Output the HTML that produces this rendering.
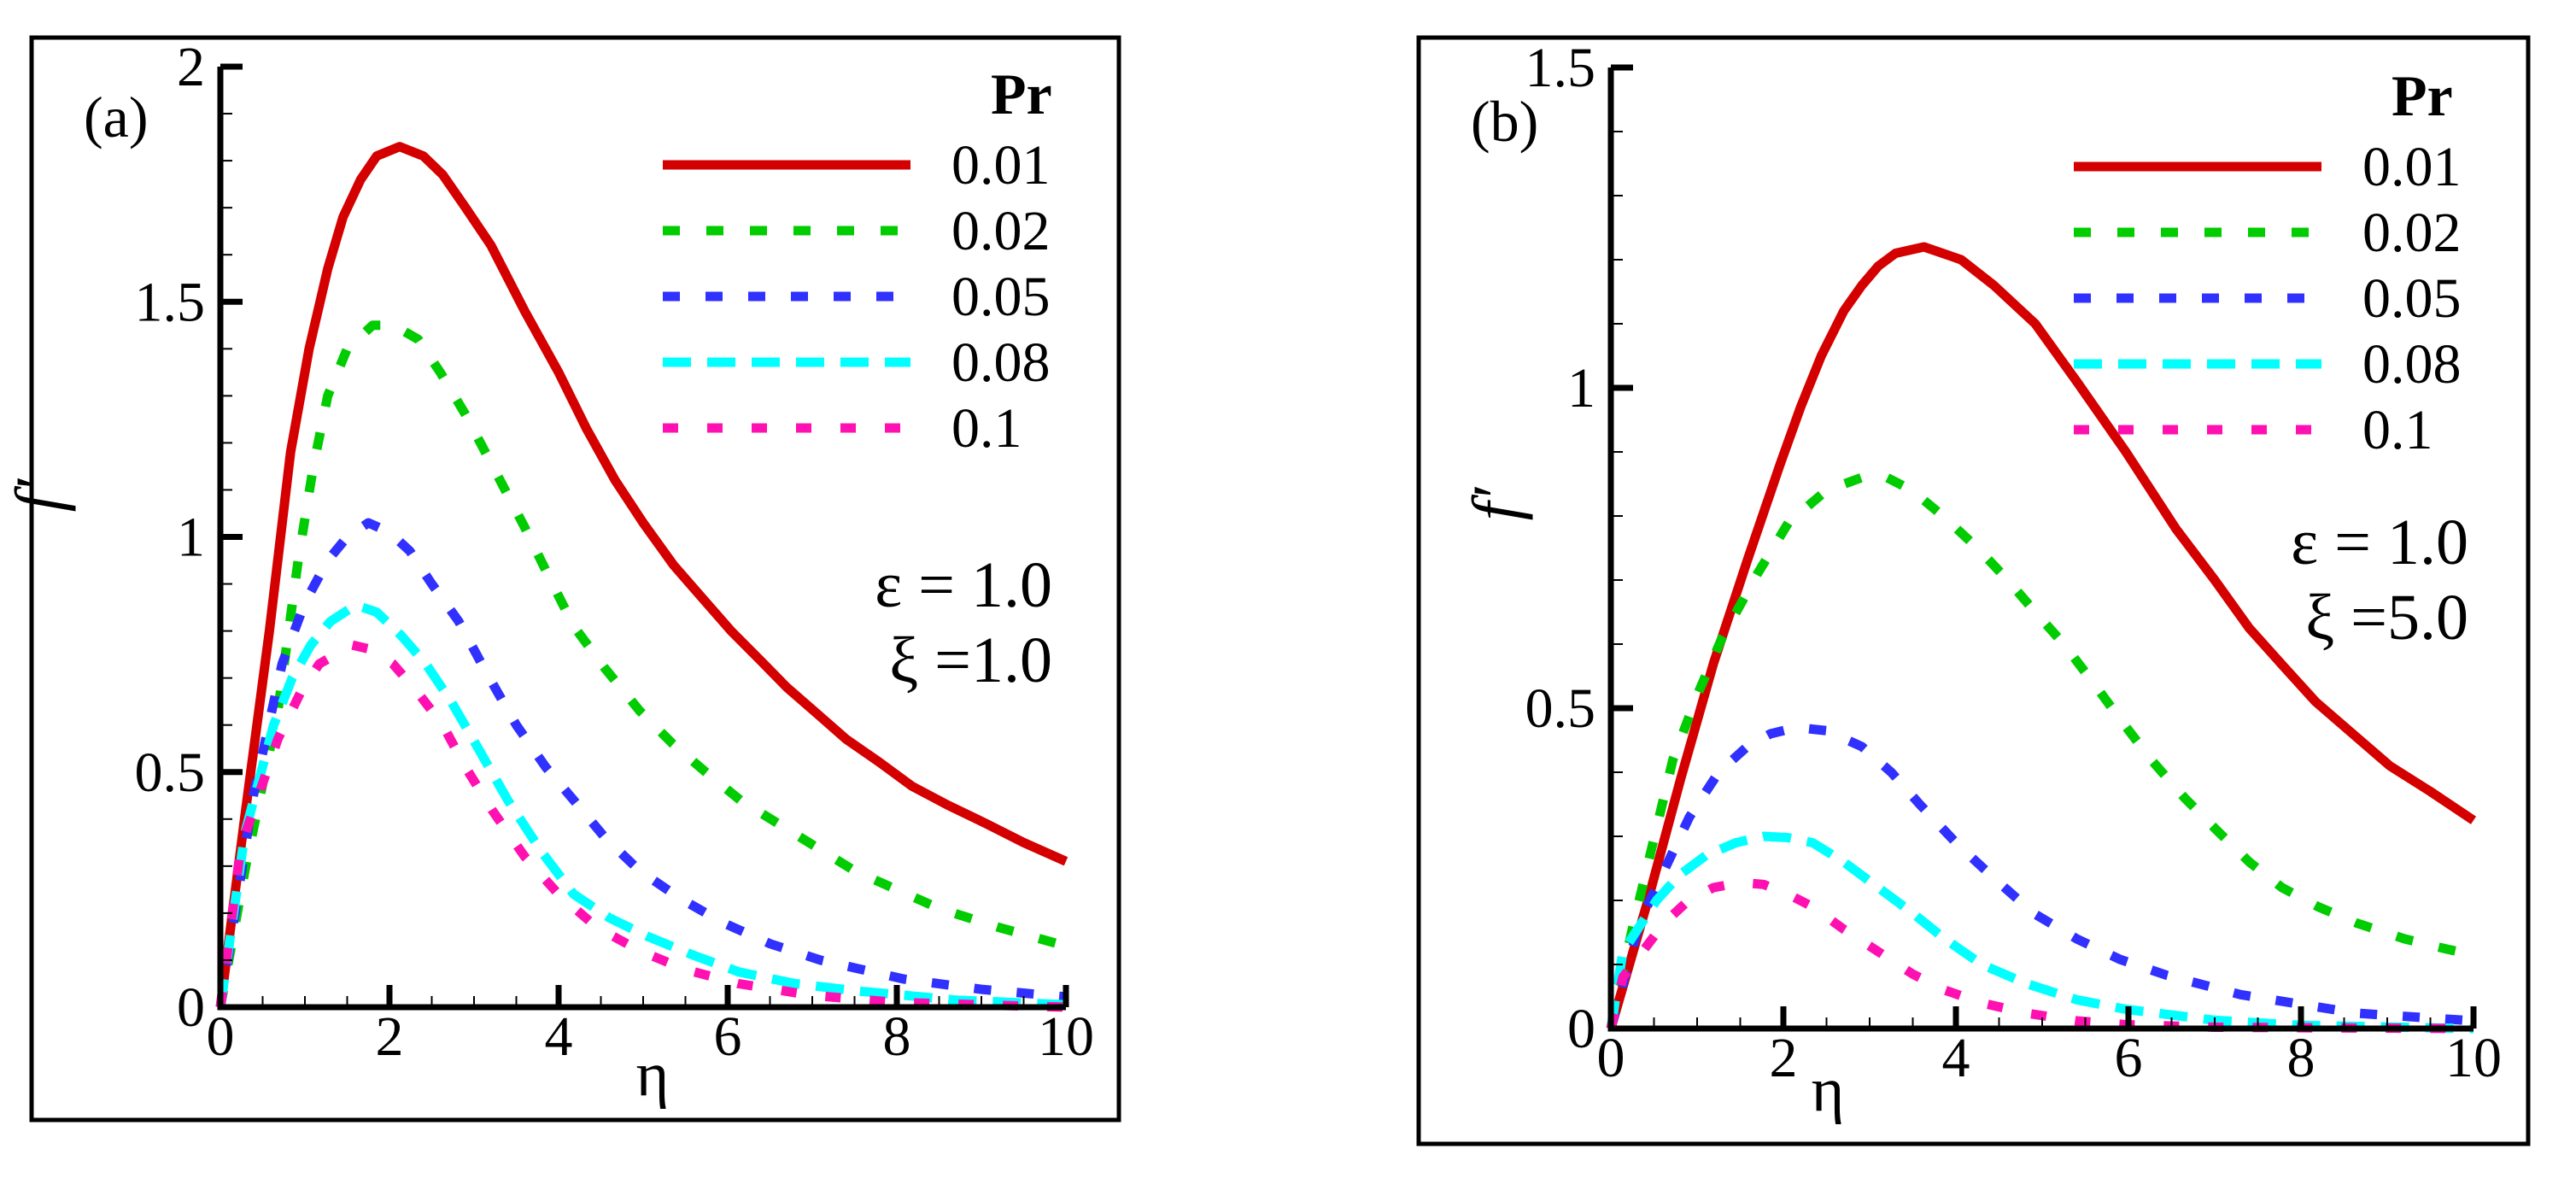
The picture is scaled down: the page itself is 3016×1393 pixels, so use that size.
<!DOCTYPE html>
<html><head><meta charset="utf-8"><style>
html,body{margin:0;padding:0;background:#fff;}
svg, svg text{font-family:"Liberation Serif","Times New Roman",serif;}
</style></head><body>
<svg id="root" width="3016" height="1388" viewBox="0 0 3016 1388" xmlns="http://www.w3.org/2000/svg" font-family="Liberation Serif, serif">
<rect x="0" y="0" width="3016" height="1388" fill="#fff"/>
</svg>
<script>
const seriesNames = ["0.01","0.02","0.05","0.08","0.1"];
const seriesColors = ["#d40000","#00cc00","#3030ff","#00ffff","#ff10b0"];
const xTicks = [0,2,4,6,8,10];
const yTicksA = [0,0.5,1,1.5,2];
const yTickLabelsA = ["0","0.5","1","1.5","2"];
const yTicksB = [0,0.5,1,1.5];
const yTickLabelsB = ["0","0.5","1","1.5"];
// panel (a) data: [eta, f']
const aRed = [[0,0],[0.3,0.42],[0.58,0.8],[0.83,1.18],[1.05,1.4],[1.27,1.57],[1.45,1.68],[1.66,1.76],[1.85,1.81],[2.12,1.83],[2.4,1.81],[2.63,1.77],[2.9,1.7],[3.2,1.62],[3.6,1.48],[4.0,1.35],[4.33,1.23],[4.67,1.12],[5.0,1.03],[5.36,0.94],[5.7,0.87],[6.04,0.8],[6.4,0.735],[6.7,0.68],[7.05,0.625],[7.4,0.57],[7.8,0.52],[8.18,0.47],[8.6,0.43],[9.06,0.39],[9.5,0.35],[10,0.31]];
const aGreen = [[0,0],[0.3,0.3],[0.68,0.63],[0.92,0.95],[1.1,1.15],[1.27,1.3],[1.5,1.4],[1.8,1.45],[2.05,1.45],[2.34,1.42],[2.6,1.35],[2.9,1.26],[3.25,1.14],[3.6,1.02],[3.9,0.91],[4.18,0.81],[4.55,0.72],[4.96,0.63],[5.35,0.56],[5.74,0.5],[6.15,0.44],[6.6,0.39],[7.05,0.34],[7.5,0.29],[8.0,0.25],[8.5,0.21],[9.2,0.17],[10,0.13]];
const aBlue = [[0,0],[0.39,0.45],[0.73,0.73],[1.0,0.86],[1.27,0.95],[1.5,1.0],[1.75,1.03],[2.0,1.01],[2.24,0.97],[2.5,0.9],[2.82,0.82],[3.15,0.71],[3.5,0.6],[3.85,0.51],[4.18,0.44],[4.55,0.36],[4.96,0.29],[5.45,0.23],[5.94,0.18],[6.5,0.135],[7.1,0.1],[8.08,0.06],[9,0.038],[10,0.022]];
const aCyan = [[0,0],[0.29,0.37],[0.63,0.6],[0.85,0.7],[1.07,0.77],[1.3,0.82],[1.6,0.855],[1.85,0.84],[2.14,0.79],[2.43,0.73],[2.73,0.65],[3.05,0.55],[3.4,0.44],[3.8,0.33],[4.18,0.24],[4.6,0.19],[5.06,0.15],[5.6,0.11],[6.13,0.075],[6.8,0.05],[7.5,0.035],[8.7,0.015],[10,0.005]];
const aPink = [[0,0],[0.24,0.34],[0.68,0.57],[0.95,0.67],[1.17,0.73],[1.56,0.77],[1.8,0.76],[2.04,0.73],[2.33,0.67],[2.63,0.6],[2.9,0.51],[3.21,0.42],[3.6,0.32],[4,0.24],[4.45,0.17],[4.96,0.12],[5.5,0.08],[6.13,0.05],[7,0.025],[8,0.01],[10,0]];
// panel (b) data
const bRed = [[0,0],[0.43,0.2],[0.81,0.39],[1.19,0.57],[1.58,0.73],[1.96,0.88],[2.2,0.97],[2.44,1.05],[2.7,1.12],[2.91,1.16],[3.1,1.19],[3.3,1.21],[3.63,1.22],[4.06,1.2],[4.44,1.16],[4.92,1.1],[5.4,1.01],[5.97,0.9],[6.55,0.78],[7.0,0.7],[7.4,0.625],[7.8,0.565],[8.17,0.51],[8.6,0.46],[9.03,0.41],[9.5,0.37],[10,0.325]];
const bGreen = [[0,0],[0.24,0.15],[0.72,0.42],[1.0,0.52],[1.29,0.61],[1.7,0.71],[2.06,0.79],[2.5,0.84],[2.91,0.86],[3.2,0.86],[3.49,0.84],[3.85,0.8],[4.25,0.75],[4.6,0.7],[4.92,0.65],[5.25,0.6],[5.59,0.54],[5.92,0.48],[6.26,0.42],[6.65,0.36],[7.02,0.31],[7.4,0.26],[7.78,0.22],[8.2,0.19],[8.64,0.165],[9.2,0.14],[9.69,0.124],[10,0.115]];
const bBlue = [[0,0],[0.33,0.165],[0.91,0.33],[1.25,0.4],[1.58,0.44],[1.85,0.46],[2.15,0.47],[2.5,0.465],[2.91,0.44],[3.25,0.4],[3.58,0.35],[4.0,0.29],[4.44,0.235],[4.9,0.18],[5.4,0.14],[5.9,0.108],[6.45,0.083],[7.3,0.053],[8.64,0.024],[10,0.012]];
const bCyan = [[0,0],[0.14,0.12],[0.53,0.2],[0.8,0.24],[1.1,0.27],[1.45,0.29],[1.77,0.3],[2.05,0.298],[2.34,0.29],[2.7,0.26],[3.1,0.22],[3.5,0.18],[3.87,0.14],[4.3,0.1],[4.82,0.07],[5.4,0.045],[5.97,0.03],[7,0.013],[8,0.005],[10,0]];
const bPink = [[0,0],[0.14,0.08],[0.62,0.165],[0.9,0.2],[1.19,0.22],[1.5,0.228],[1.77,0.225],[2.05,0.21],[2.34,0.19],[2.7,0.155],[3.1,0.12],[3.5,0.085],[3.87,0.06],[4.3,0.04],[4.82,0.024],[5.4,0.012],[5.97,0.006],[7,0.002],[10,0]];

const NS="http://www.w3.org/2000/svg";
const root=document.getElementById('root');
const dashes=[null,"20 31","20 30","33 19","18 34"];
function mk(tag,attrs,parent,text){const e=document.createElementNS(NS,tag);for(const k in attrs)e.setAttribute(k,attrs[k]);if(tag==='text')e.setAttribute('font-family','Liberation Serif, serif');if(text!==undefined)e.textContent=text;(parent||root).appendChild(e);return e;}

function panel(cfg){
  const g=mk('g',{});
  
  
  const X=v=>cfg.x0+(cfg.x1-cfg.x0)*v/10;
  const Y=v=>cfg.y0-(cfg.y0-cfg.yTop)*v/cfg.ymax;
  const fr=mk('rect',{x:cfg.fx,y:cfg.fy,width:cfg.fw,height:cfg.fh,fill:'none',stroke:'#000','stroke-width':5},g);
  
  
  cfg.series.forEach((s,i)=>{
    const p=mk('polyline',{points:s.map(d=>X(d[0]).toFixed(1)+','+Y(d[1]).toFixed(1)).join(' '),fill:'none',stroke:seriesColors[i],'stroke-width':11,'stroke-linejoin':'round'},g);
    if(dashes[i])p.setAttribute('stroke-dasharray',dashes[i]);
    
    
  });
  const ax=mk('path',{d:`M${cfg.x0},${Y(cfg.ymax)} L${cfg.x0},${cfg.y0} L${cfg.x1},${cfg.y0}`,fill:'none',stroke:'#000','stroke-width':7},g);
  
  
  for(let v=0;v<=10.001;v+=0.5){
    const major=Math.abs(v/2-Math.round(v/2))<1e-6;
    mk('line',{x1:X(v),x2:X(v),y1:cfg.y0,y2:cfg.y0-(major?26:13),stroke:'#000','stroke-width':major?7:2},g);
  }
  xTicks.forEach(v=>{
    const t=mk('text',{x:X(v),y:cfg.y0+56,'font-size':66,'text-anchor':'middle'},g,String(v));
    
    
  });
  const nMinor=Math.round(cfg.ymax/0.1);
  for(let k=0;k<=nMinor;k++){
    const v=k*0.1;const major=k%5===0;
    mk('line',{x1:cfg.x0,x2:cfg.x0+(major?26:14),y1:Y(v),y2:Y(v),stroke:'#000','stroke-width':major?7:2},g);
  }
  cfg.yTicks.forEach((v,i)=>{
    const t=mk('text',{x:cfg.x0-18,y:Y(v)+22,'font-size':66,'text-anchor':'end'},g,cfg.yLabels[i]);
    
    
  });
  const xt=mk('text',{x:cfg.etaX,y:cfg.etaY,'font-size':74,'text-anchor':'middle'},g,'η');
  
  
  const yt=mk('text',{x:0,y:0,'font-size':78,'font-style':'italic','text-anchor':'middle',transform:`translate(${cfg.fX},${cfg.fY}) rotate(-90)`},g,'f′');
  
  
  const pl=mk('text',{x:cfg.labX,y:cfg.labY,'font-size':68},g,cfg.label);
  
  
  const lg=mk('g',{},g);
  
  
  const ph=mk('text',{x:cfg.prX,y:cfg.legY-30,'font-size':68,'font-weight':'bold'},lg,'Pr');
  
  
  seriesNames.forEach((n,i)=>{
    const y=cfg.legY+i*77+cfg.legY0;
    const l=mk('line',{x1:cfg.legX,x2:cfg.legX+290,y1:y,y2:y,stroke:seriesColors[i],'stroke-width':11},lg);
    if(dashes[i])l.setAttribute('stroke-dasharray',dashes[i]);
    
    
    const t=mk('text',{x:cfg.legX+338,y:y+22,'font-size':66},lg,n);
    
    
  });
  const e1=mk('text',{x:cfg.annX,y:cfg.annY,'font-size':76,'text-anchor':'end'},g,'ε = 1.0');
  
  
  const e2=mk('text',{x:cfg.annX,y:cfg.annY+88,'font-size':76,'text-anchor':'end'},g,cfg.xi);
  
  
}

panel({name:'panel-a',fx:37,fy:44,fw:1273,fh:1267,x0:258,x1:1248,y0:1179,yTop:78,ymax:2,
  yTicks:yTicksA,yLabels:yTickLabelsA,series:[aRed,aGreen,aBlue,aCyan,aPink],
  etaX:764,etaY:1282,fX:72,fY:580,label:'(a)',labX:98,labY:160,
  prX:1160,legY:163,legY0:30,legX:776,annX:1232,annY:710,xi:'ξ =1.0'});
panel({name:'panel-b',fx:1661,fy:44,fw:1299,fh:1295,x0:1886,x1:2896,y0:1204,yTop:79,ymax:1.5,
  yTicks:yTicksB,yLabels:yTickLabelsB,series:[bRed,bGreen,bBlue,bCyan,bPink],
  etaX:2140,etaY:1300,fX:1778,fY:590,label:'(b)',labX:1722,labY:165,
  prX:2800,legY:165,legY0:30,legX:2428,annX:2890,annY:660,xi:'ξ =5.0'});
</script>
</body></html>
